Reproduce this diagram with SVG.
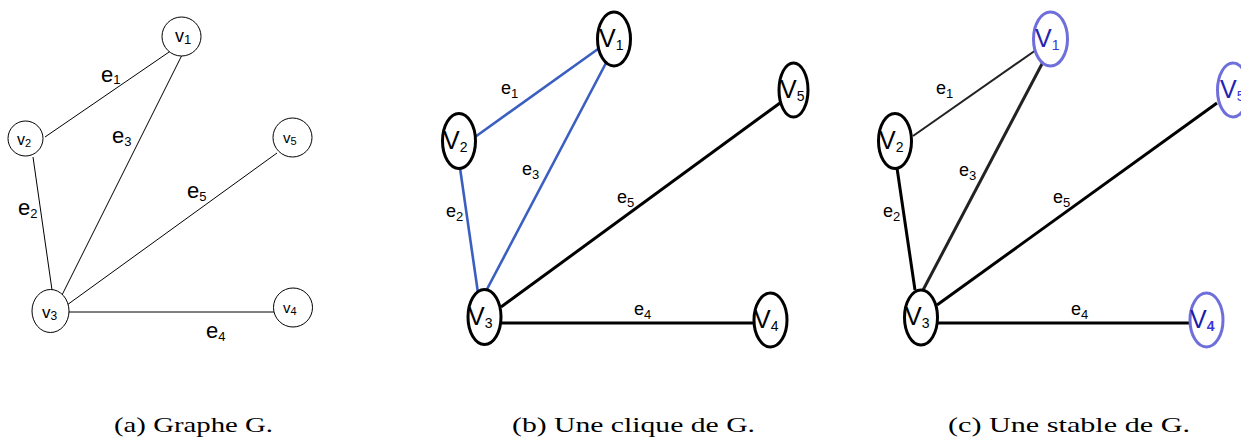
<svg xmlns="http://www.w3.org/2000/svg" width="1241" height="440" viewBox="0 0 1241 440">
<style>
text{font-family:"Liberation Sans",Arial,sans-serif;fill:#000}
.cap{font-family:"Liberation Serif","Times New Roman",serif;font-size:21px}
.na{fill:#fff;stroke:#000;stroke-width:1}
.ea{stroke:#000;stroke-width:1;fill:none}
.nb{fill:#fff;stroke:#000;stroke-width:3}
.nblue{fill:#fff;stroke:#6f6fdc;stroke-width:3}
.eblue{stroke:#3a5fc0;stroke-width:2.6;fill:none}
.ek{stroke:#000;stroke-width:3;fill:none}
.ek2{stroke:#222;stroke-width:2;fill:none}
.la{font-size:22px}
.lb{font-size:18px}
.sub{font-size:13px}
.vb{font-size:25px}
.vs{font-size:14px}
</style>
<rect width="1241" height="440" fill="#fff"/>
<g id="connectors">
<line class="ea" x1="45" y1="137" x2="172" y2="50"/>
<line class="ea" x1="182" y1="55" x2="59" y2="301"/>
<line class="ea" x1="33" y1="157" x2="52" y2="290"/>
<line class="ea" x1="67" y1="305" x2="277" y2="153"/>
<line class="ea" x1="69" y1="312" x2="274" y2="312"/>
<line class="eblue" x1="475" y1="137" x2="598" y2="49"/>
<line class="eblue" x1="606" y1="63" x2="485" y2="293"/>
<line class="eblue" x1="460" y1="168" x2="478" y2="293"/>
<line class="ek" x1="501" y1="307" x2="780" y2="103"/>
<line class="ek" x1="502" y1="323" x2="754" y2="323"/>
<line class="ek2" x1="913" y1="136" x2="1036" y2="50"/>
<line class="ek" style="stroke:#222" x1="1043" y1="62" x2="922" y2="292"/>
<line class="ek" x1="897" y1="168" x2="915" y2="290"/>
<line class="ek" x1="937" y1="305" x2="1217" y2="103"/>
<line class="ek" x1="938" y1="323" x2="1190" y2="323"/>
</g>
<g id="edge-labels">
<text class="la" x="101" y="82">e<tspan class="sub" dy="2">1</tspan></text>
<text class="la" x="112" y="143">e<tspan class="sub" dy="3">3</tspan></text>
<text class="la" x="18" y="215">e<tspan class="sub" dy="3">2</tspan></text>
<text class="la" x="187" y="198">e<tspan class="sub" dy="3">5</tspan></text>
<text class="la" x="206" y="338">e<tspan class="sub" dy="3">4</tspan></text>
<text class="lb" x="501" y="94">e<tspan class="sub" dy="4">1</tspan></text>
<text class="lb" x="522" y="175">e<tspan class="sub" dy="4">3</tspan></text>
<text class="lb" x="446" y="217">e<tspan class="sub" dy="4">2</tspan></text>
<text class="lb" x="617" y="203">e<tspan class="sub" dy="4">5</tspan></text>
<text class="lb" x="634" y="315">e<tspan class="sub" dy="4">4</tspan></text>
<text class="lb" x="936" y="94">e<tspan class="sub" dy="4">1</tspan></text>
<text class="lb" x="959" y="176">e<tspan class="sub" dy="4">3</tspan></text>
<text class="lb" x="883" y="217">e<tspan class="sub" dy="4">2</tspan></text>
<text class="lb" x="1053" y="203">e<tspan class="sub" dy="4">5</tspan></text>
<text class="lb" x="1071" y="315">e<tspan class="sub" dy="4">4</tspan></text>
</g>
<g id="a-v1"><circle class="na" cx="181.5" cy="36.5" r="19.5"/><text x="175" y="42" font-size="18">v<tspan font-size="13" dy="2">1</tspan></text></g>
<g id="a-v2"><circle class="na" cx="25.5" cy="138.5" r="17.5"/><text x="17" y="145" font-size="16">v<tspan font-size="11" dy="2">2</tspan></text></g>
<g id="a-v5"><circle class="na" cx="292.5" cy="137.5" r="19.5"/><text x="283" y="143" font-size="15">v<tspan font-size="11" dy="2">5</tspan></text></g>
<g id="a-v3"><ellipse class="na" cx="50.5" cy="311" rx="18.5" ry="21.5"/><text x="42" y="318" font-size="17">v<tspan font-size="12" dy="2">3</tspan></text></g>
<g id="a-v4"><circle class="na" cx="293" cy="307.5" r="19.5"/><text x="283" y="313" font-size="15">v<tspan font-size="11" dy="2">4</tspan></text></g>
<g id="b-v1"><ellipse class="nb" cx="614" cy="39" rx="16.5" ry="27"/><text class="vb" x="599" y="47">V<tspan class="vs" dy="3">1</tspan></text></g>
<g id="b-v2"><ellipse class="nb" cx="459" cy="141" rx="16.5" ry="27.5"/><text class="vb" x="443" y="149">V<tspan class="vs" dy="3">2</tspan></text></g>
<g id="b-v5"><ellipse class="nb" cx="793.5" cy="90" rx="14.5" ry="27"/><text class="vb" x="780" y="98">V<tspan class="vs" dy="3">5</tspan></text></g>
<g id="b-v3"><ellipse class="nb" cx="484.5" cy="317" rx="16.5" ry="27.5"/><text class="vb" x="468" y="325">V<tspan class="vs" dy="3">3</tspan></text></g>
<g id="b-v4"><ellipse class="nb" cx="770.5" cy="320" rx="16.5" ry="27"/><text class="vb" x="754" y="328">V<tspan class="vs" dy="3">4</tspan></text></g>
<g id="c-v1"><ellipse class="nblue" cx="1050.5" cy="39" rx="17" ry="27"/><text class="vb" x="1035" y="47" style="fill:#2424b0">V<tspan class="vs" dy="3" style="fill:#3838d8">1</tspan></text></g>
<g id="c-v2"><ellipse class="nb" cx="895" cy="141" rx="16.5" ry="27.5"/><text class="vb" x="879" y="149">V<tspan class="vs" dy="3">2</tspan></text></g>
<g id="c-v5"><ellipse class="nblue" cx="1233" cy="90" rx="15.5" ry="27"/><text class="vb" x="1220" y="98" style="fill:#2424b0">V<tspan class="vs" dy="3" style="fill:#3838d8">5</tspan></text></g>
<g id="c-v3"><ellipse class="nb" cx="921" cy="317.5" rx="16.5" ry="27.5"/><text class="vb" x="905" y="325">V<tspan class="vs" dy="3">3</tspan></text></g>
<g id="c-v4"><ellipse class="nblue" cx="1206.5" cy="320" rx="16.5" ry="27"/><text class="vb" x="1190" y="328" style="fill:#1c1ca8">V<tspan class="vs" dy="3" font-weight="bold" style="fill:#3838d8">4</tspan></text></g>
<g id="captions">
<text class="cap" x="114" y="432" textLength="159" lengthAdjust="spacingAndGlyphs">(a) Graphe G.</text>
<text class="cap" x="512" y="432" textLength="243" lengthAdjust="spacingAndGlyphs">(b) Une clique de G.</text>
<text class="cap" x="948" y="432" textLength="242" lengthAdjust="spacingAndGlyphs">(c) Une stable de G.</text>
</g>
</svg>
